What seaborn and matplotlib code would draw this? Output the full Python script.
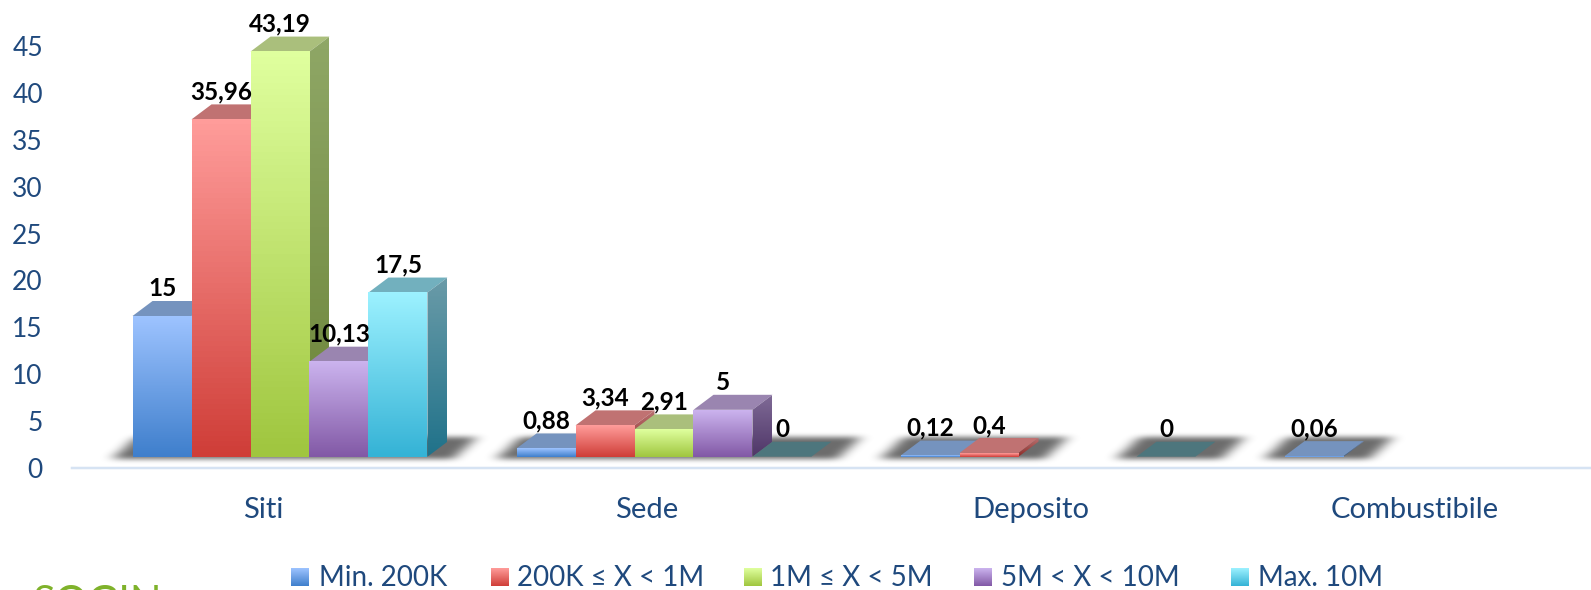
import matplotlib

matplotlib.use("Agg")

import matplotlib.pyplot as plt
import numpy as np
import pandas as pd
import seaborn as sns
from matplotlib.colors import LinearSegmentedColormap
from matplotlib.patches import Polygon
from matplotlib.transforms import ScaledTranslation

# data, nan = no bar at all
categories = ["Siti", "Sede", "Deposito", "Combustibile"]
series = ["Min. 200K", "200K ≤ X < 1M", "1M ≤ X < 5M", "5M < X < 10M", "Max. 10M"]
min_200k = [15, 0.88, 0.12, 0.06]
from_200k = [35.96, 3.34, 0.4, np.nan]
from_1m = [43.19, 2.91, np.nan, np.nan]
from_5m = [10.13, 5, np.nan, np.nan]
max_10m = [17.5, 0, 0, np.nan]
y_ticks = [0, 5, 10, 15, 20, 25, 30, 35, 40, 45]

# styles
front_top = ["#9DC3FF", "#FF9C9A", "#DFFF9E", "#CBB3EE", "#9CF1FF"]
front_bottom = ["#3F7FCC", "#CF3E38", "#A0C63F", "#8259A6", "#35B3D6"]
side_top = ["#6F8DB8", "#B87070", "#8FA766", "#7F6A96", "#6A9BA8"]
side_bottom = ["#2A558C", "#8C2A26", "#6B8438", "#4F3668", "#20728A"]
top_face = ["#7593BE", "#C07272", "#AABF7C", "#9A85B0", "#72B0BE"]
top_face_zero = "#4D767D"
text_blue = "#1F497D"
axis_blue = "#D6E3F3"

W, H = 1591, 590
DPI = 100
PX = 72 / DPI  # points per pixel
BASE_Y = 456.7  # pixel row of the bar feet
PX_PER_UNIT = 9.38
DEPTH_X, DEPTH_Y = 20, 15

sns.set_theme(style="white")
plt.rcParams["font.family"] = ["Lato", "DejaVu Sans"]

df = pd.DataFrame(
    {"cat": categories * 5,
     "series": np.repeat(series, 4),
     "value": min_200k + from_200k + from_1m + from_5m + max_10m}
)


def gradient(c_top, c_bottom):
    return LinearSegmentedColormap.from_list("g", [c_bottom, c_top])


def blur(a, n_rows, n_cols):
    k_r, k_c = np.ones(n_rows) / n_rows, np.ones(n_cols) / n_cols
    for _ in range(3):
        a = np.apply_along_axis(lambda r: np.convolve(r, k_r, mode="same"), 0, a)
        a = np.apply_along_axis(lambda r: np.convolve(r, k_c, mode="same"), 1, a)
    return a


fig = plt.figure(figsize=(W / DPI, H / DPI), dpi=DPI)
under = fig.add_axes([0, 0, 1, 1], zorder=0)
under.set_axis_off()
ax = fig.add_axes([72 / W, 1 - BASE_Y / H, 1 - 72 / W, BASE_Y / H], zorder=1)
ax.patch.set_alpha(0)

sns.barplot(
    data=df, x="cat", y="value", hue="series", order=categories, hue_order=series,
    palette=front_bottom, saturation=1, width=0.768, gap=0, errorbar=None,
    legend=False, ax=ax,
)

# 384 px between groups, first group centred on x=280
x_scale = 384
ax.set_xlim((72 - 280) / x_scale, (W - 280) / x_scale)
ax.set_ylim(0, BASE_Y / PX_PER_UNIT)
ax.set_autoscale_on(False)
dx = DEPTH_X / x_scale
dy = DEPTH_Y / PX_PER_UNIT

# collect bars with their series index, then paint left to right
bars = []
for i, cont in enumerate(ax.containers):
    for patch in cont.patches:
        if not np.isnan(patch.get_height()):
            bars.append((patch.get_x(), i, patch))
bars.sort(key=lambda b: b[0])

grad = np.linspace(1, 0, 64).reshape(-1, 1)
z = 3
for x0, i, patch in bars:
    w, h = patch.get_width(), patch.get_height()
    patch.set_facecolor("none")
    patch.set_edgecolor("none")

    top_col = top_face_zero if (h == 0 and i == 4) else top_face[i]
    ax.add_patch(Polygon(
        [(x0, h), (x0 + w, h), (x0 + w + dx, h + dy), (x0 + dx, h + dy)],
        closed=True, fc=top_col, ec="none", zorder=z))
    if h > 0:
        side = Polygon(
            [(x0 + w, 0), (x0 + w + dx, dy), (x0 + w + dx, h + dy), (x0 + w, h)],
            closed=True, transform=ax.transData)
        im = ax.imshow(grad, cmap=gradient(side_top[i], side_bottom[i]), aspect="auto",
                       extent=(x0 + w, x0 + w + dx, 0, h + dy), zorder=z + 0.1, vmin=0, vmax=1)
        im.set_clip_path(side)
        front = ax.imshow(grad, cmap=gradient(front_top[i], front_bottom[i]), aspect="auto",
                          extent=(x0, x0 + w, 0, h), zorder=z + 0.2, vmin=0, vmax=1)
    z += 1

# value labels go above everything, comma decimals like the original
for x0, i, patch in bars:
    h = patch.get_height()
    ax.annotate(f"{h:g}".replace(".", ","), (x0 + patch.get_width() / 2, h),
                xytext=(0, 27.5 * PX), textcoords="offset points", ha="center", va="center",
                fontsize=17.5, fontweight="bold", color="black", zorder=100, annotation_clip=False)

# soft floor shadow behind each run of touching bars
shadow = np.zeros((H, W))
runs = []
for x0, i, patch in bars:
    x1 = x0 + patch.get_width()
    if runs and abs(runs[-1][1] - x0) < 1e-6:
        runs[-1][1] = x1
    else:
        runs.append([x0, x1])
to_px = lambda v: 280 + v * x_scale
for a, b in runs:
    a_px, b_px = to_px(a), to_px(b)
    for row in range(int(BASE_Y) - 19, int(BASE_Y) + 3):
        t = (BASE_Y + 2 - row) / 22
        shadow[row, int(a_px - 20 + 24 * t):int(b_px + 26 + 24 * t)] = 1
shadow = blur(shadow, 5, 13)
rgba = np.zeros((H, W, 4))
rgba[..., 3] = shadow * 0.58
under.imshow(rgba, extent=(0, W, H, 0), aspect="auto", interpolation="bilinear")
under.set_xlim(0, W)
under.set_ylim(H, 0)

# axis: labels and baseline sit 11 px below the bar feet
sns.despine(ax=ax, left=True, top=True, right=True)
ax.spines["bottom"].set_position(("outward", 11.3 * PX))
ax.spines["bottom"].set_color(axis_blue)
ax.spines["bottom"].set_linewidth(2.5 * PX)
ax.set_xlabel("")
ax.set_ylabel("")
ax.set_yticks(y_ticks)
ax.set_yticklabels([str(t) for t in y_ticks])
ax.tick_params(axis="both", length=0)
ax.tick_params(axis="y", labelsize=19, labelcolor=text_blue, pad=21)
ax.tick_params(axis="x", labelsize=21, labelcolor=text_blue, pad=21)
y_shift = ScaledTranslation(0, -11.3 / DPI, fig.dpi_scale_trans)
for lab in ax.get_yticklabels():
    lab.set_transform(lab.get_transform() + y_shift)
    lab.set_clip_on(False)
x_shift = ScaledTranslation(-17 / DPI, 0, fig.dpi_scale_trans)
for lab in ax.get_xticklabels():
    lab.set_transform(lab.get_transform() + x_shift)

# legend
swatch_x = [291, 491, 744, 974, 1231]
text_x = [319, 517, 770, 1001, 1258]
for i, name in enumerate(series):
    sw = fig.add_axes([swatch_x[i] / W, 1 - 586 / H, 18 / W, 18 / H], zorder=2)
    sw.imshow(grad, cmap=gradient(front_top[i], front_bottom[i]), aspect="auto", vmin=0, vmax=1)
    sw.set_axis_off()
    fig.text(text_x[i] / W, 1 - 586 / H, name, fontsize=20, color=text_blue,
             ha="left", va="baseline")

# logo at the bottom edge, cut off by the frame in the original
fig.text(97 / W, 1 - 585 / H, "SOGIN", fontsize=30, color="#7FB22B", ha="center", va="top")

fig.savefig("out.png", dpi=DPI)
